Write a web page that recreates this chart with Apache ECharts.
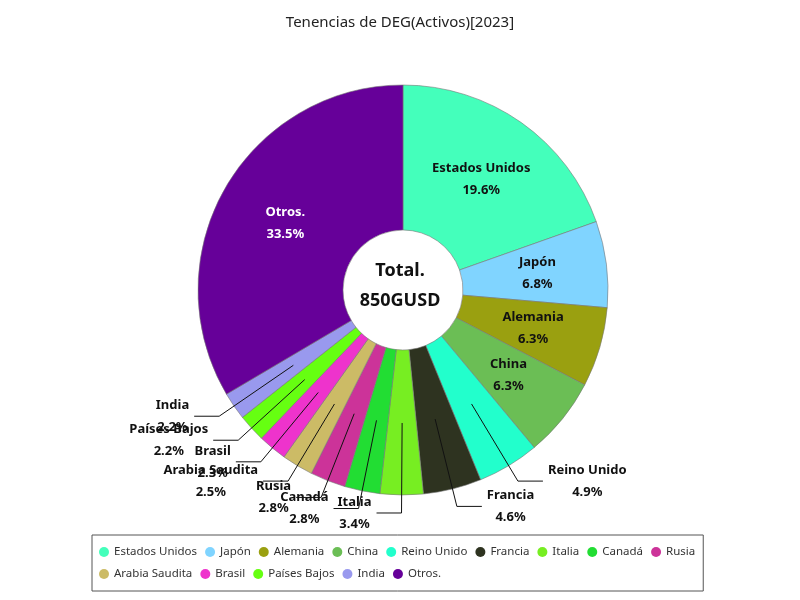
<!DOCTYPE html>
<html>
<head>
<meta charset="utf-8">
<script src="https://cdn.jsdelivr.net/npm/echarts@6/dist/echarts.min.js"></script>
<style>
html,body{margin:0;padding:0;background:#fff;}
#main{width:800px;height:600px;}
</style>
</head>
<body>
<div id="main"></div>
<script>
// datos (GUSD)
var paises = ['Estados Unidos','Japón','Alemania','China','Reino Unido','Francia','Italia','Canadá','Rusia','Arabia Saudita','Brasil','Países Bajos','India','Otros.'];
var valores = [166.5, 57.7, 53.4, 53.4, 41.5, 39.0, 28.8, 23.7, 23.7, 21.1, 19.4, 18.6, 18.6, 284.6];
var colores = ['#44FFBB','#80D4FF','#9AA010','#6BBE55','#22FFCC','#2E3320','#77EE22','#22DD33','#CC3399','#CCBB66','#EE33CC','#66FF11','#9999EE','#660099'];

var total = 0;
for (var i = 0; i < valores.length; i++) total += valores[i];
function pct(v){ return (v / total * 100).toFixed(1); }

var fuente = '"Noto Sans", sans-serif';
var datosAnillo = [], datosEtiquetas = [];
for (var i = 0; i < paises.length; i++) {
    var grande = valores[i] / total >= 0.06;
    datosAnillo.push({
        name: paises[i],
        value: valores[i],
        itemStyle: {color: colores[i]},
        label: {show: grande, color: paises[i] == 'Otros.' ? '#fff' : '#111'}
    });
    datosEtiquetas.push({
        name: paises[i],
        value: valores[i],
        itemStyle: {color: 'rgba(0,0,0,0)'},
        label: {show: !grande},
        labelLine: {show: !grande}
    });
}

var myChart = echarts.init(document.getElementById('main'));
var option = {
    backgroundColor: '#fff',
    color: colores,
    title: {
        text: 'Tenencias de DEG(Activos)[2023]',
        left: 'center',
        top: 10,
        textStyle: {fontFamily: fuente, fontSize: 15, fontWeight: 'normal', color: '#222'}
    },
    legend: {
        data: paises,
        left: 92,
        top: 535,
        width: 614,
        padding: [10, 8, 10, 7],
        itemGap: 8,
        itemWidth: 10,
        itemHeight: 10,
        icon: 'circle',
        itemStyle: {borderWidth: 0},
        borderColor: '#555',
        borderWidth: 1,
        textStyle: {fontFamily: fuente, fontSize: 11.5, lineHeight: 14, color: '#333'}
    },
    graphic: [
        {type: 'text', left: 'center', top: 262, style: {text: 'Total.', font: 'bold 18px ' + fuente, fill: '#111', textAlign: 'center'}},
        {type: 'text', left: 'center', top: 292, style: {text: Math.round(total) + 'GUSD', font: 'bold 18px ' + fuente, fill: '#111', textAlign: 'center'}}
    ],
    series: [
        {
            name: 'Tenencias',
            type: 'pie',
            center: [403, 290],
            radius: [60, 205],
            startAngle: 90,
            clockwise: true,
            avoidLabelOverlap: false,
            itemStyle: {borderColor: '#777', borderWidth: 0.6},
            label: {
                position: 'inside',
                fontFamily: fuente,
                fontSize: 13,
                fontWeight: 'bold',
                lineHeight: 22,
                formatter: function(p){ return p.name + '\n' + pct(p.value) + '%'; }
            },
            labelLine: {show: false},
            emphasis: {scale: false},
            data: datosAnillo
        },
        {
            name: 'Etiquetas',
            type: 'pie',
            center: [403, 290],
            radius: [0, 133],
            startAngle: 90,
            clockwise: true,
            silent: true,
            z: 3,
            avoidLabelOverlap: false,
            label: {
                position: 'outside',
                fontFamily: fuente,
                formatter: function(p){ return '{t|' + p.name + '}\n{t|' + pct(p.value) + '%}'; },
                rich: {
                    t: {fontFamily: fuente, fontSize: 13, fontWeight: 'bold', color: '#111', lineHeight: 22, align: 'center'}
                }
            },
            labelLine: {length: 90, length2: 25, lineStyle: {color: '#111', width: 1}},
            labelLayout: {hideOverlap: false},
            emphasis: {disabled: true},
            data: datosEtiquetas
        }
    ]
};
myChart.setOption(option);
</script>
</body>
</html>
